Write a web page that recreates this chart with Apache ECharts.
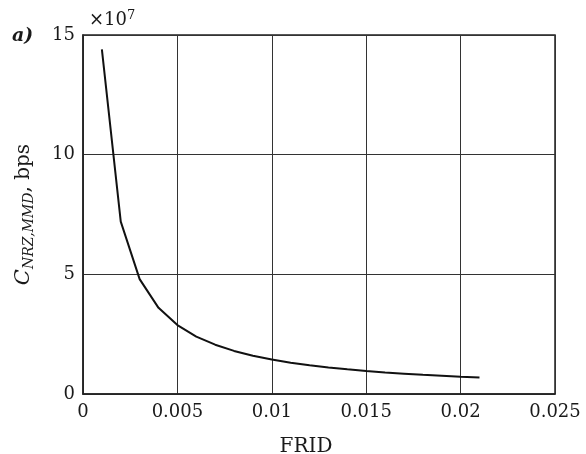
<!DOCTYPE html>
<html><head><meta charset="utf-8">
<script src="https://cdn.jsdelivr.net/npm/echarts@6/dist/echarts.min.js"></script>
<style>html,body{margin:0;padding:0;background:#fff}#c{width:586px;height:454px}</style>
</head><body><div id="c"></div>
<script>
const frid = [0.001,0.002,0.003,0.004,0.005,0.006,0.007,0.008,0.009,0.010,0.011,0.012,0.013,0.014,0.015,0.016,0.017,0.018,0.019,0.020,0.021];
const capacity = [14.4,7.2,4.8,3.6,2.88,2.4,2.06,1.8,1.6,1.44,1.31,1.2,1.11,1.03,0.96,0.9,0.85,0.8,0.76,0.72,0.69];
const xTicks = [0,0.005,0.01,0.015,0.02,0.025];
const yTicks = [0,5,10,15];
const xName = 'FRID';
const scaleLabel = '×10';
const scaleExp = '7';
const panelLabel = 'a)';

const font = 'DejaVu Serif';
const ink = '#1a1a1a';
const chart = echarts.init(document.getElementById('c'));
chart.setOption({
  animation:false,
  backgroundColor:'#fff',
  grid:{left:83,right:31,top:35,bottom:60,containLabel:false,outerBoundsMode:'none',show:true,borderColor:'#222',borderWidth:1.5,backgroundColor:'transparent'},
  xAxis:{type:'value',min:xTicks[0],max:xTicks[xTicks.length-1],interval:0.005,
    name:xName,nameLocation:'middle',nameGap:43,
    nameTextStyle:{fontFamily:font,fontSize:20,color:ink,padding:[0,26,0,0]},
    axisLine:{show:true,lineStyle:{color:'#222',width:1.5}},axisTick:{show:false},
    axisLabel:{fontFamily:font,fontSize:18,color:ink,margin:9,formatter:v=>String(+v.toFixed(4))},
    splitLine:{show:true,lineStyle:{color:'#333',width:1}}},
  yAxis:{type:'value',min:yTicks[0],max:yTicks[yTicks.length-1],interval:5,
    name:'{i|C}{s|NRZ,MMD}{n|, bps}',nameLocation:'middle',nameGap:47,
    nameTextStyle:{padding:[0,0,0,0],rich:{
      i:{fontFamily:font,fontStyle:'italic',fontSize:21,color:ink},
      s:{fontFamily:font,fontStyle:'italic',fontSize:14,color:ink,verticalAlign:'bottom',padding:[10,0,0,0]},
      n:{fontFamily:font,fontSize:20,color:ink}}},
    axisLine:{show:true,lineStyle:{color:'#222',width:1.5}},axisTick:{show:false},
    axisLabel:{fontFamily:font,fontSize:18,color:ink,margin:8},
    splitLine:{show:true,lineStyle:{color:'#333',width:1}}},
  graphic:[
    {type:'text',left:89,top:9,style:{text:'{a|'+scaleLabel+'}{b|'+scaleExp+'}',rich:{
      a:{fontFamily:font,fontSize:18,fill:ink},
      b:{fontFamily:font,fontSize:13,fill:ink,verticalAlign:'top',padding:[0,0,9,0]}}}},
    {type:'text',left:12,top:27,style:{text:panelLabel,fontFamily:font,fontSize:19,fontWeight:'bold',fontStyle:'italic',fill:ink}}
  ],
  series:[{type:'line',data:frid.map((x,i)=>[x,capacity[i]]),showSymbol:false,symbol:'none',
    lineStyle:{color:'#111',width:2},smooth:false}]
});
</script></body></html>
